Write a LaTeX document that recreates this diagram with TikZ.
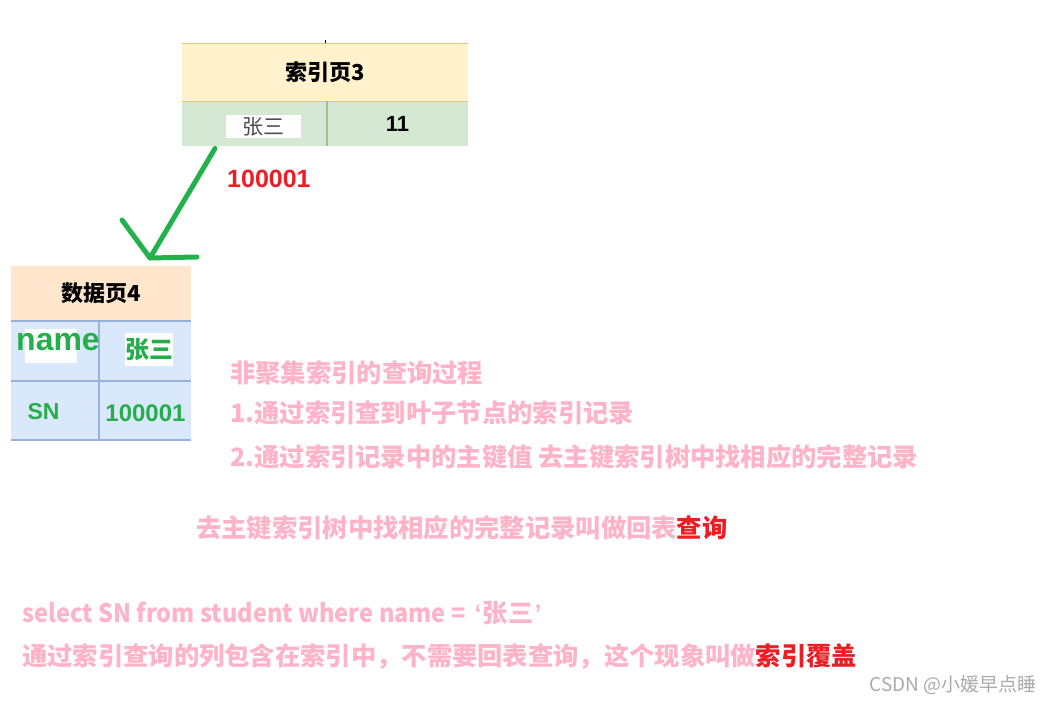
\documentclass[tikz,border=0pt]{standalone}
\usepackage{fontspec}
\usetikzlibrary{calc}
\setmainfont{Liberation Sans}
\newfontfamily\cjk{Noto Sans CJK SC}
\definecolor{hdrY}{HTML}{FFF2CC}
\definecolor{rowG}{HTML}{D5E8D4}
\definecolor{goldL}{HTML}{E2C77A}
\definecolor{greenL}{HTML}{9CC589}
\definecolor{hdrO}{HTML}{FFE6CC}
\definecolor{rowB}{HTML}{DAE8FC}
\definecolor{blueL}{HTML}{98B2DC}
\definecolor{arrG}{HTML}{22B14C}
\definecolor{txtG}{HTML}{25AE4A}
\definecolor{pinkT}{HTML}{FFB3C8}
\definecolor{redT}{HTML}{EE1C25}
\definecolor{grayT}{HTML}{AAAAAA}
\tikzset{
  cell/.style={inner sep=0pt, outer sep=0pt, minimum height=#1},
  wbox/.style={fill=white, inner sep=0pt, outer sep=0pt},
  note/.style={anchor=west, inner sep=0pt, text=pinkT, font=\cjk\bfseries\fontsize{25.3}{30}\selectfont},
}
\begin{document}
\begin{tikzpicture}[x=1pt,y=-1pt]
\useasboundingbox (0,0) rectangle (1041,703);
% ---------- index page 3 ----------
\node[cell=58pt, minimum width=286pt, fill=hdrY] (ih) at (325,72.5) {};
\node[font=\cjk\bfseries\fontsize{22}{26}\selectfont] (iht) at (ih.center) {索引页3};
\node[cell=45pt, minimum width=145pt, fill=rowG, anchor=north west] (ik) at (ih.south west) {};
\node[cell=45pt, minimum width=141pt, fill=rowG, anchor=north east] (iv) at (ih.south east) {};
\draw[goldL, line width=1.5pt] (ih.north west) -- (ih.north east);
\draw[goldL, line width=1.5pt] (ih.south west) -- (ih.south east);
\draw[greenL, line width=1.5pt] (ik.north east) -- (ik.south east);
\draw[black, line width=1pt] (ih.north) -- ++(0,-3);
\node[wbox, minimum width=75pt, minimum height=23pt] (kb) at (263.5,126.5) {};
\node[text=black!70, font=\cjk\fontsize{21}{25}\selectfont] (kt) at (kb.center) {张三};
\node[font=\bfseries\fontsize{22}{26}\selectfont] (vt) at (iv.center) {11};
\node[text=redT, font=\bfseries\fontsize{25}{29}\selectfont, anchor=west, inner sep=0pt] (pk) at (227,179) {100001};
% ---------- data page 4 ----------
\node[cell=55pt, minimum width=180pt, fill=hdrO, anchor=north west] (dh) at (11,266) {};
\node[font=\cjk\bfseries\fontsize{22}{26}\selectfont] (dht) at (dh.center) {数据页4};
\node[cell=60pt, minimum width=88pt, fill=rowB, anchor=north west] (d1a) at (dh.south west) {};
\node[cell=60pt, minimum width=92pt, fill=rowB, anchor=north east] (d1b) at (dh.south east) {};
\node[cell=59pt, minimum width=88pt, fill=rowB, anchor=north west] (d2a) at (d1a.south west) {};
\node[cell=59pt, minimum width=92pt, fill=rowB, anchor=north east] (d2b) at (d1b.south east) {};
\draw[blueL, line width=1.5pt] (dh.south west) -- (dh.south east);
\draw[blueL, line width=1.5pt] (d1a.south west) -- (d1b.south east);
\draw[blueL, line width=1.5pt] (d2a.south west) -- (d2b.south east);
\draw[blueL, line width=1.5pt] (d1a.north east) -- (d2a.south east);
\node[wbox, minimum width=52pt, minimum height=34pt] (nb) at (51,346) {};
\node[text=txtG, font=\bfseries\fontsize{32}{36}\selectfont, anchor=west, inner sep=0pt] (nt) at (16,342) {name};
\node[wbox, minimum width=48pt, minimum height=33pt] (zb) at (149,349.5) {};
\node[text=txtG, font=\cjk\bfseries\fontsize{24}{28}\selectfont] (zt) at (zb.center) {张三};
\node[text=txtG, font=\bfseries\fontsize{23}{26}\selectfont] (sn) at (43.5,412) {SN};
\node[text=txtG, font=\bfseries\fontsize{24}{28}\selectfont] (sv) at (145.5,413) {100001};
% ---------- green arrow ----------
\coordinate (as) at ($(ik.south west)+(33,2)$);
\coordinate (at) at ($(dh.north east)+(-41,-8)$);
\coordinate (a1) at (122,220);
\coordinate (a2) at (197,257);
\draw[arrG, line width=5pt, line cap=round, line join=round] (as) -- (at);
\draw[arrG, line width=5pt, line cap=round, line join=round] (a1) -- (at) -- (a2);
% ---------- notes ----------
\node[note] (n1) at (230,373) {非聚集索引的查询过程};
\node[note] (n2) at (230,413) {1.通过索引查到叶子节点的索引记录};
\node[note] (n3) at (230,457) {2.通过索引记录中的主键值 去主键索引树中找相应的完整记录};
\node[note] (n4) at (196,528) {去主键索引树中找相应的完整记录叫做回表\textcolor{redT}{查询}};
\node[note] (n5) at (22,613) {\scalebox{0.93}[1]{select SN from student where name =}\hspace{0.35em}{\rmfamily\bfseries ‘}\hspace{0.05em}张三\hspace{0.05em}{\rmfamily\bfseries ’}};
\node[note] (n6) at (22,657) {通过索引查询的列包含在索引中，不需要回表查询，这个现象叫做\textcolor{redT}{索引覆盖}};
\node[anchor=east, inner sep=0pt, text=grayT, font=\cjk\fontsize{19}{23}\selectfont] (wm) at (1037,685) {CSDN @小媛早点睡};
\end{tikzpicture}
\end{document}
